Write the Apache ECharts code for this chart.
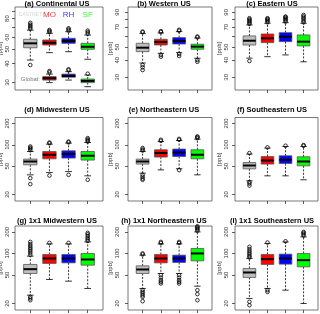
<!DOCTYPE html>
<html><head><meta charset="utf-8">
<script src="https://cdn.jsdelivr.net/npm/echarts@6/dist/echarts.min.js"></script>
<style>html,body{margin:0;padding:0;background:#fff}#c{width:320px;height:314px}</style>
</head><body><div id="c"></div><script>
// ---------------- DATA ----------------
const categories = ['CASTNET', 'MO', 'RH', 'SF'];
const panelTitles = ['(a) Continental US', '(b) Western US', '(c) Eastern US',
  '(d) Midwestern US', '(e) Northeastern US', '(f) Southeastern US',
  '(g) 1x1 Midwestern US', '(h) 1x1 Northeastern US', '(i) 1x1 Southeastern US'];

// [lower whisker, Q1, median, Q3, upper whisker] per category (ppb)
const statsA = [[42.3,51.1,54.7,58.2,67],[47.4,53.3,55.2,57.6,63.8],[48.1,54.7,56.7,59.1,65.4],[42.8,49.9,51.9,54.7,62.1]];
const outliersA = [[68.5,70,71.5,73,75,39.2],[65,66,67.1],[66.5,67.7,68.9],[63.5,65,66.5]];
const globalStatsA = [null,[29.9,31.1,32.0,32.8,34.1],[31.1,32.5,33.1,34.1,35.4],[28.1,29.9,30.7,31.6,33.6]];
const globalOutliersA = [[],[35,35.7],[36.2,36.7],[34.3]];

const statsB = [[38.2,46.3,49.5,53.3,63],[45,51.8,54.5,57.1,63.5],[45.5,52.7,55.5,58.7,65],[41.4,48.2,50.4,52.5,58.3]];
const outliersB = [[64.3,65,36.9,35.5,33.9],[64.5,65.5,43.8,42.5],[66,67,44.5,43],[59,59.8,40.2,39]];

const statsC = [[41.5,51.8,55.7,60.4,72.7],[42.5,53.9,58,62.4,74.8],[43.8,54.8,59.6,63.8,75.6],[39,51,54.8,61.4,74.8]];
const outliersC = [[74,75.5,77,78.5,80,81.5,39.5],[76,77.5,79,80.5,81.5],[77,78.5,80,81.5,83,83.7],[76,78,80,82,84,86]];

const statsD = [[37.8,52.3,58.2,62.9,80.5],[40.7,63.5,72.3,80.5,102],[42,65,74,82.3,105.7],[36.6,60.9,70,80.5,107.7]];
const outliersD = [[84,88,91,94.6,34,28],[105,107.7,37],[108,111,37.8],[111,115,119,124,32.2]];

const statsE = [[39.9,53.5,58.2,62.9,80.5],[44.4,67.1,76.4,85,111],[46,68.4,77.9,87,115],[37.8,63.5,72.3,85,120]];
const outliersE = [[83,86,89.9,37.8,35.5,33.5,32.2],[114,117.6],[118,121,44],[124,128,131]];

const statsF = [[31.1,45.9,51.1,56.3,74],[36.6,53.5,60.1,68.4,89.9],[36.6,54.5,61.5,70,94.6],[32.2,50.6,58.2,67.8,94.6]];
const outliersF = [[76.4,29.9,28.5,26.7],[92],[97],[97,99]];

const statsG = [[26.1,52.5,60.3,70.2,91.7],[43.3,72.5,85.1,96.8,136],[41,73.9,85.1,96.8,136],[32.4,68.6,82.4,100,145]];
const outliersG = [[96,102,108,114,120,127,135,145,24.7,23.5,22.2],[140.6],[140.6],[150,157,165,175,185,194]];

const statsH = [[32.4,52.5,59.7,67.1,94.7],[52.5,73.9,85.1,96.8,136],[52.5,74.8,85.1,94.7,136],[34.9,78.8,100,117.5,200]];
const outliersH = [[97,100,30.7,29,27.6,26,24.7,21.5],[140,145,49.7,46,42.3,40,38],[140,145,49.7,46,42.3,40,38],[208,216,224,232,240,30.7,27,22.2]];

const statsI = [[23.5,46.2,54.2,61.7,85.1],[32.4,70.2,83.3,96.8,138],[30.7,70.9,85.1,97.8,145],[20,65,80.6,100,170.6]];
const outliersI = [[88,92,97,102,108,115,123.7,21.1,18.9],[142,30.7,29],[148],[178,186,194,200]];

// axis ticks / labels / ranges
const ticksTop = [30,40,50,60,70,80,90];
const labelsTopA = [30,40,50,60,80];
const labelsTopBC = [30,40,50,70,90];
const ticksLower = [20,50,100,200];
const rangeA = [26.7, 95.6];
const rangeBC = [24.2, 98.5];
const rangeLower = [16.2, 242];
const legendY = 84.5;      // value height of the legend words in panel (a)
const globalLabelY = 31.6; // value height of "Global:" in panel (a)

// ---------------- STYLE / LAYOUT ----------------
const boxColors = ['#bebebe', '#ff0000', '#0000ff', '#00ff00'];
const legendColors = ['#cccccc', '#ff0000', '#0000ff', '#00ff00'];
const colLeft = [15, 128, 235], colWidth = [88, 84, 83];
const rowTop = [7, 117.5, 226], rowHeight = [83, 83.5, 84];
const titleX = [57, 164, 272], titleY = [3.5, 110, 220.5];
const labelMargin = [4.5, 7.5, 5.5], nameGap = [8.5, 14.5, 12];
const BOX_W = 0.7;
const FONT = 'Liberation Sans, Arial, sans-serif';

const panels = [
  {stats: statsA, out: outliersA, ticks: ticksTop, labels: labelsTopA, range: rangeA},
  {stats: statsB, out: outliersB, ticks: ticksTop, labels: labelsTopBC, range: rangeBC},
  {stats: statsC, out: outliersC, ticks: ticksTop, labels: labelsTopBC, range: rangeBC},
  {stats: statsD, out: outliersD, ticks: ticksLower, labels: ticksLower, range: rangeLower},
  {stats: statsE, out: outliersE, ticks: ticksLower, labels: ticksLower, range: rangeLower},
  {stats: statsF, out: outliersF, ticks: ticksLower, labels: ticksLower, range: rangeLower},
  {stats: statsG, out: outliersG, ticks: ticksLower, labels: ticksLower, range: rangeLower},
  {stats: statsH, out: outliersH, ticks: ticksLower, labels: ticksLower, range: rangeLower},
  {stats: statsI, out: outliersI, ticks: ticksLower, labels: ticksLower, range: rangeLower}
];

function renderBox(params, api) {
  const x = api.value(0);
  const lo = api.value(1), q1 = api.value(2), md = api.value(3), q3 = api.value(4), hi = api.value(5);
  const ci = api.value(6);
  const pLo = api.coord([x, lo]), pQ1 = api.coord([x, q1]), pMd = api.coord([x, md]);
  const pQ3 = api.coord([x, q3]), pHi = api.coord([x, hi]);
  const xl = api.coord([x - BOX_W / 2, md])[0], xr = api.coord([x + BOX_W / 2, md])[0];
  const cl = api.coord([x - BOX_W / 4, md])[0], cr = api.coord([x + BOX_W / 4, md])[0];
  const cx = pMd[0];
  const thin = {stroke: '#000', lineWidth: 0.8};
  return {type: 'group', children: [
    {type: 'line', shape: {x1: cx, y1: pQ3[1], x2: cx, y2: pHi[1]}, style: Object.assign({lineDash: [2, 1.5]}, thin)},
    {type: 'line', shape: {x1: cx, y1: pQ1[1], x2: cx, y2: pLo[1]}, style: Object.assign({lineDash: [2, 1.5]}, thin)},
    {type: 'line', shape: {x1: cl, y1: pHi[1], x2: cr, y2: pHi[1]}, style: thin},
    {type: 'line', shape: {x1: cl, y1: pLo[1], x2: cr, y2: pLo[1]}, style: thin},
    {type: 'rect', shape: {x: xl, y: pQ3[1], width: xr - xl, height: pQ1[1] - pQ3[1]},
      style: {fill: boxColors[ci], stroke: '#555', lineWidth: 0.8}},
    {type: 'line', shape: {x1: xl, y1: pMd[1], x2: xr, y2: pMd[1]}, style: {stroke: '#000', lineWidth: 2}}
  ]};
}

function outlierPoints(lists) {
  const pts = [];
  lists.forEach((arr, k) => arr.forEach(v => pts.push([k + 1, v])));
  return pts;
}
function outlierSeries(i, lists) {
  return {type: 'scatter', xAxisIndex: i, yAxisIndex: i, data: outlierPoints(lists),
    symbol: 'circle', symbolSize: 3.6, clip: true, silent: true, z: 1,
    itemStyle: {color: 'rgba(0,0,0,0)', borderColor: '#000', borderWidth: 1}};
}
function boxSeries(i, stats) {
  const data = [];
  stats.forEach((s, k) => { if (s) data.push([k + 1].concat(s, [k])); });
  return {type: 'custom', xAxisIndex: i, yAxisIndex: i, renderItem: renderBox, data: data,
    encode: {x: 0, y: [1, 2, 3, 4, 5]}, clip: true, silent: true, z: 2};
}

const grid = [], xAxis = [], yAxis = [], series = [], graphic = [];
panels.forEach((p, i) => {
  const r = Math.floor(i / 3), c = i % 3;
  grid.push({left: colLeft[c], top: rowTop[r], width: colWidth[c], height: rowHeight[r],
    show: true, borderColor: '#555', borderWidth: 0.8, backgroundColor: 'transparent',
    containLabel: false, outerBoundsMode: 'none'});
  xAxis.push({gridIndex: i, type: 'value', min: 0.2, max: 4.8,
    axisLine: {show: false}, splitLine: {show: false}, axisLabel: {show: false},
    axisTick: {show: true, customValues: [1, 2, 3, 4], length: 3, lineStyle: {color: '#333', width: 0.8}}});
  yAxis.push({gridIndex: i, type: 'log', logBase: 10, min: p.range[0], max: p.range[1],
    axisLine: {show: false}, splitLine: {show: false}, minorTick: {show: false},
    axisTick: {show: true, customValues: p.ticks, length: 3, lineStyle: {color: '#333', width: 0.8}},
    axisLabel: {show: true, customValues: p.labels, rotate: 90, fontSize: 6, margin: labelMargin[c],
      color: '#333', fontFamily: FONT},
    name: '[ppb]', nameLocation: 'middle', nameGap: nameGap[c], nameRotate: 90,
    nameTextStyle: {fontSize: 6, color: '#333', fontFamily: FONT}});
  series.push(boxSeries(i, p.stats));
  series.push(outlierSeries(i, p.out));
  graphic.push({type: 'text', x: titleX[c], y: titleY[r], z: 10,
    style: {text: panelTitles[i], fontSize: 7.5, fontWeight: 'bold', fontFamily: FONT, fill: '#000',
      align: 'center', verticalAlign: 'middle'}});
});

// global model boxes in panel (a)
series.push(boxSeries(0, globalStatsA));
series.push(outlierSeries(0, globalOutliersA));

// legend words in panel (a)
series.push({type: 'scatter', xAxisIndex: 0, yAxisIndex: 0, symbolSize: 0, silent: true, z: 5,
  data: categories.map((name, k) => ({value: [k + 1, legendY],
    label: {show: true, position: 'inside', formatter: name, color: legendColors[k],
      fontSize: k === 0 ? 5 : 8, fontFamily: FONT}}))});
series.push({type: 'scatter', xAxisIndex: 0, yAxisIndex: 0, symbolSize: 0, silent: true, z: 5,
  data: [{value: [1, globalLabelY], label: {show: true, position: 'inside', formatter: 'Global:',
    color: '#555', fontSize: 6, fontFamily: FONT}}]});

const chart = echarts.init(document.getElementById('c'), null, {renderer: 'canvas', width: 320, height: 314});
chart.setOption({
  animation: false,
  backgroundColor: '#fff',
  textStyle: {fontFamily: FONT},
  grid, xAxis, yAxis, series, graphic
});
</script></body></html>
